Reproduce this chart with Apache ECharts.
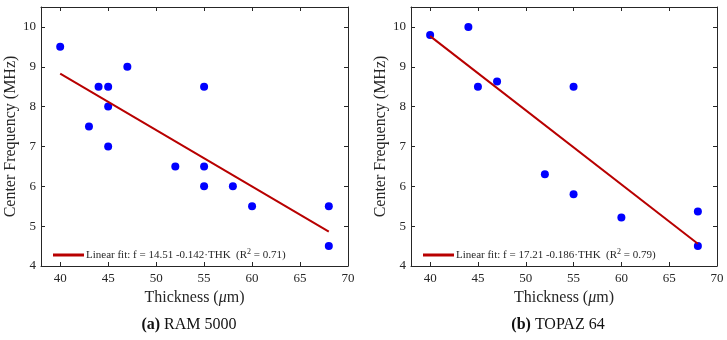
<!DOCTYPE html>
<html>
<head>
<meta charset="utf-8">
<script src="https://cdn.jsdelivr.net/npm/echarts@6/dist/echarts.min.js"></script>
<style>
    html, body { margin: 0; padding: 0; background: #fff; }
    #chart { width: 727px; height: 340px; }
</style>
</head>
<body>
<div id="chart"></div>
<script>
// 数据：左图 RAM 5000
const ramThk = [40, 43, 44, 45, 45, 45, 47, 52, 55, 55, 55, 58, 60, 68, 68];
const ramFreq = [9.5, 7.5, 8.5, 8.5, 8.0, 7.0, 9.0, 6.5, 8.5, 6.5, 6.0, 6.0, 5.5, 5.5, 4.5];
const ramFitX = [40, 68];
const ramFitY = [8.83, 4.86];

// 数据：右图 TOPAZ 64
const topazThk = [40, 44, 45, 47, 52, 55, 55, 60, 68, 68];
const topazFreq = [9.8, 10.0, 8.5, 8.63, 6.3, 8.5, 5.8, 5.22, 5.37, 4.5];
const topazFitX = [40, 68];
const topazFitY = [9.77, 4.56];

// 刻度
const xTicks = [40, 45, 50, 55, 60, 65, 70];
const yTicks = [4, 5, 6, 7, 8, 9, 10];

const fitLabels = {
    fitA: 'Linear fit: f = 14.51 -0.142·THK  (R{sup|2} = 0.71)',
    fitB: 'Linear fit: f = 17.21 -0.186·THK  (R{sup|2} = 0.79)',
};

const FONT = '"Liberation Serif", "DejaVu Serif", serif';
const AX = '#262626';

const chart = echarts.init(document.getElementById('chart'));

const zip = (xs, ys) => xs.map((x, i) => [x, ys[i]]);

const mainX = (gi) => ({
    type: 'value',
    gridIndex: gi,
    min: 38,
    max: 70,
    name: 'Thickness ({i|μ}m)',
    nameLocation: 'middle',
    nameGap: 21,
    nameTextStyle: {
        fontFamily: FONT, fontSize: 16, color: AX,
        rich: { i: { fontFamily: FONT, fontSize: 16, fontStyle: 'italic', color: AX } },
    },
    axisLine: { show: true, lineStyle: { color: AX, width: 1 } },
    axisTick: { show: true, inside: true, length: 4, customValues: xTicks, lineStyle: { color: AX } },
    axisLabel: { customValues: xTicks, margin: 6, fontFamily: FONT, fontSize: 13, color: AX },
    splitLine: { show: false },
});

const topX = (gi) => ({
    type: 'value',
    gridIndex: gi,
    position: 'top',
    min: 38,
    max: 70,
    axisLine: { show: true, lineStyle: { color: AX, width: 1 } },
    axisTick: { show: true, inside: true, length: 4, customValues: xTicks, lineStyle: { color: AX } },
    axisLabel: { show: false },
    splitLine: { show: false },
});

const mainY = (gi) => ({
    type: 'value',
    gridIndex: gi,
    min: 4,
    max: 10.5,
    name: 'Center Frequency (MHz)',
    nameLocation: 'middle',
    nameGap: 20,
    nameTextStyle: { fontFamily: FONT, fontSize: 16, color: AX },
    axisLine: { show: true, lineStyle: { color: AX, width: 1 } },
    axisTick: { show: true, inside: true, length: 4, customValues: yTicks, lineStyle: { color: AX } },
    axisLabel: { customValues: yTicks, margin: 5, fontFamily: FONT, fontSize: 13, color: AX },
    splitLine: { show: false },
});

const rightY = (gi) => ({
    type: 'value',
    gridIndex: gi,
    position: 'right',
    min: 4,
    max: 10.5,
    axisLine: { show: true, lineStyle: { color: AX, width: 1 } },
    axisTick: { show: true, inside: true, length: 4, customValues: yTicks, lineStyle: { color: AX } },
    axisLabel: { show: false },
    splitLine: { show: false },
});

const legendOf = (name, left) => ({
    data: [name],
    left,
    top: 243,
    icon: 'rect',
    itemWidth: 31,
    itemHeight: 3,
    itemGap: 4,
    formatter: (n) => fitLabels[n],
    textStyle: {
        fontFamily: FONT,
        fontSize: 11,
        color: AX,
        padding: [0, 0, 0, -3],
        rich: {
            sup: { fontFamily: FONT, fontSize: 8, color: AX, verticalAlign: 'top', padding: [0, 0, 6, 0] },
        },
    },
});

const option = {
    animation: false,
    grid: [
        { left: 41, right: 379, top: 7, bottom: 74 },
        { left: 411, right: 10, top: 7, bottom: 74 },
    ],
    title: [
        {
            text: '{b|(a)} RAM 5000',
            left: 184,
            top: 312,
            textAlign: 'center',
            textStyle: {
                fontFamily: FONT, fontSize: 16, fontWeight: 'normal', color: '#111',
                rich: { b: { fontFamily: FONT, fontSize: 16, fontWeight: 'bold', color: '#111' } },
            },
        },
        {
            text: '{b|(b)} TOPAZ 64',
            left: 553,
            top: 312,
            textAlign: 'center',
            textStyle: {
                fontFamily: FONT, fontSize: 16, fontWeight: 'normal', color: '#111',
                rich: { b: { fontFamily: FONT, fontSize: 16, fontWeight: 'bold', color: '#111' } },
            },
        },
    ],
    legend: [legendOf('fitA', 48), legendOf('fitB', 418)],
    xAxis: [mainX(0), topX(0), mainX(1), topX(1)],
    yAxis: [mainY(0), rightY(0), mainY(1), rightY(1)],
    series: [
        {
            name: 'fitA',
            type: 'line',
            xAxisIndex: 0,
            yAxisIndex: 0,
            data: zip(ramFitX, ramFitY),
            showSymbol: false,
            lineStyle: { color: '#b80000', width: 2 },
            itemStyle: { color: '#b80000' },
            z: 3,
        },
        {
            name: 'ptsA',
            type: 'scatter',
            xAxisIndex: 0,
            yAxisIndex: 0,
            data: zip(ramThk, ramFreq),
            symbolSize: 8,
            itemStyle: { color: '#0000ff', opacity: 1 },
            z: 2,
        },
        {
            name: 'fitB',
            type: 'line',
            xAxisIndex: 2,
            yAxisIndex: 2,
            data: zip(topazFitX, topazFitY),
            showSymbol: false,
            lineStyle: { color: '#b80000', width: 2 },
            itemStyle: { color: '#b80000' },
            z: 3,
        },
        {
            name: 'ptsB',
            type: 'scatter',
            xAxisIndex: 2,
            yAxisIndex: 2,
            data: zip(topazThk, topazFreq),
            symbolSize: 8,
            itemStyle: { color: '#0000ff', opacity: 1 },
            z: 2,
        },
    ],
};

chart.setOption(option);
</script>
</body>
</html>
